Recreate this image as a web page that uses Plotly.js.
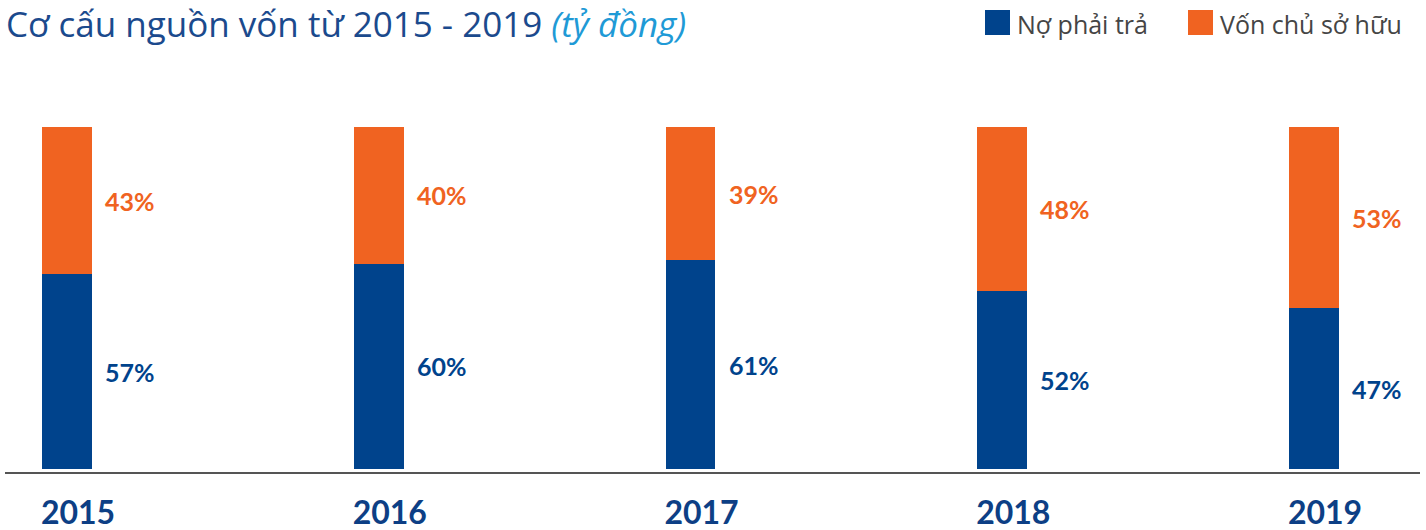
<!DOCTYPE html>
<html>
<head>
<meta charset="utf-8">
<script src="https://cdn.plot.ly/plotly-3.0.1.min.js"></script>
<style>
  html, body { margin: 0; padding: 0; background: #ffffff; }
  #chart { width: 1426px; height: 530px; }
</style>
</head>
<body>
<div id="chart"></div>
<script>
// ---- Data ----
const years = ['2015', '2016', '2017', '2018', '2019'];
const noPhaiTra = [57, 60, 61, 52, 47];      // Nợ phải trả (%)
const vonChuSoHuu = [43, 40, 39, 48, 53];    // Vốn chủ sở hữu (%)
const seriesNames = ['Nợ phải trả', 'Vốn chủ sở hữu'];

// ---- Styles ----
const BLUE = '#00438c';
const ORANGE = '#f06321';
const TITLE_BLUE = '#1b4a8d';
const LIGHT_BLUE = '#1f9ad6';
const FONT_BOLD = 'Lato, "Noto Sans", sans-serif';
const FONT_TEXT = '"Open Sans", "Noto Sans", sans-serif';

const traces = [
  {
    type: 'bar', name: seriesNames[0], x: years, y: noPhaiTra,
    marker: { color: BLUE, line: { width: 0 } }, hoverinfo: 'skip'
  },
  {
    type: 'bar', name: seriesNames[1], x: years, y: vonChuSoHuu,
    marker: { color: ORANGE, line: { width: 0 } }, hoverinfo: 'skip'
  }
];

const annotations = [];
years.forEach((yr, i) => {
  annotations.push({
    xref: 'x', yref: 'y', x: i, y: noPhaiTra[i] / 2,
    text: '<b>' + noPhaiTra[i] + '%</b>', showarrow: false,
    xanchor: 'left', yanchor: 'middle', xshift: 36,
    font: { family: FONT_BOLD, size: 25, color: BLUE }
  });
  annotations.push({
    xref: 'x', yref: 'y', x: i, y: noPhaiTra[i] + vonChuSoHuu[i] / 2,
    text: '<b>' + vonChuSoHuu[i] + '%</b>', showarrow: false,
    xanchor: 'left', yanchor: 'middle', xshift: 36,
    font: { family: FONT_BOLD, size: 25, color: ORANGE }
  });
});

// custom legend (paper coords)
const W = 1415, H = 372; // plot area size
function px(p) { return (p - 5) / W; }
function py(p) { return (472 - p) / H; }
const shapes = [
  { type: 'rect', xref: 'paper', yref: 'paper', x0: px(985), x1: px(1010), y0: py(35), y1: py(10),
    fillcolor: BLUE, line: { width: 0 } },
  { type: 'rect', xref: 'paper', yref: 'paper', x0: px(1188), x1: px(1213), y0: py(35), y1: py(10),
    fillcolor: ORANGE, line: { width: 0 } }
];
annotations.push({
  xref: 'paper', yref: 'paper', x: px(1015), y: py(24), xanchor: 'left', yanchor: 'middle',
  text: seriesNames[0], showarrow: false,
  font: { family: FONT_TEXT, size: 25, color: '#454545' }
});
annotations.push({
  xref: 'paper', yref: 'paper', x: px(1218), y: py(24), xanchor: 'left', yanchor: 'middle',
  text: seriesNames[1], showarrow: false,
  font: { family: FONT_TEXT, size: 25, color: '#454545' }
});

const layout = {
  width: 1426, height: 530,
  paper_bgcolor: '#ffffff', plot_bgcolor: '#ffffff',
  margin: { l: 5, r: 6, t: 100, b: 58 },
  showlegend: false,
  barmode: 'stack',
  bargap: 0.84,
  title: {
    text: 'Cơ cấu nguồn vốn từ 2015 - 2019 <i><span style="color:' + LIGHT_BLUE + '">(tỷ đồng)</span></i>',
    x: 6 / 1426, xanchor: 'left', xref: 'container',
    y: 1 - 24.5 / 530, yanchor: 'middle', yref: 'container',
    font: { family: FONT_TEXT, size: 35, color: TITLE_BLUE }
  },
  xaxis: {
    type: 'category',
    range: [-0.199, 4.34],
    showline: true, linecolor: '#555555', linewidth: 1.5,
    showgrid: false, zeroline: false, ticks: '',
    ticklabelshift: 11,
    ticklabelstandoff: 12,
    tickfont: { family: FONT_BOLD, size: 32, color: '#0d3f85', weight: 'bold' },
    fixedrange: true
  },
  yaxis: {
    range: [-0.877, 107.9],
    showline: false, showgrid: false, zeroline: false, showticklabels: false, ticks: '',
    fixedrange: true
  },
  shapes: shapes,
  annotations: annotations
};

Plotly.newPlot('chart', traces, layout, { displayModeBar: false, staticPlot: true });
</script>
</body>
</html>
